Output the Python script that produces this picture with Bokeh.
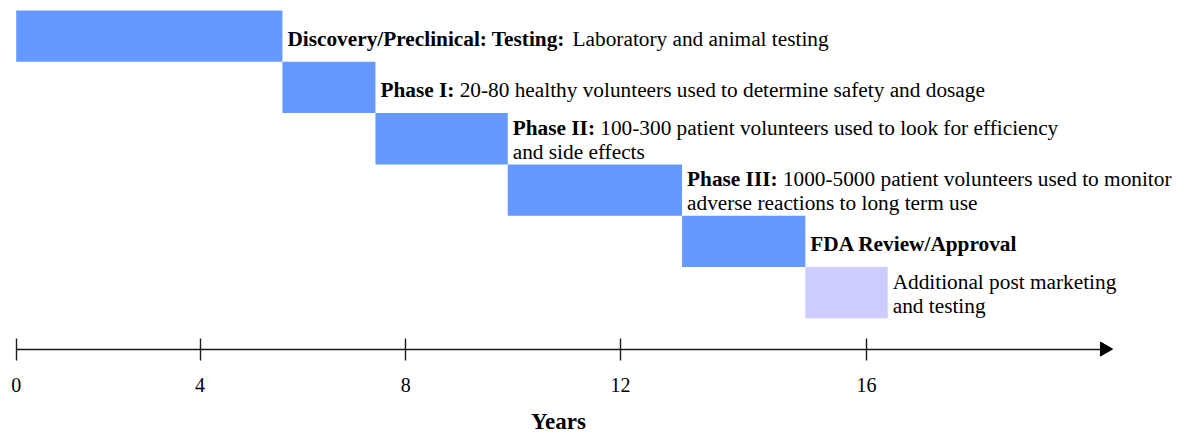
import numpy as np
from bokeh.plotting import figure
from bokeh.models import Range1d, LinearAxis, FixedTicker, ColumnDataSource
from bokeh.core.properties import value
from bokeh.embed import file_html
from bokeh.resources import INLINE

# ---------------- data ----------------
stages = ["Discovery/Preclinical", "Phase I", "Phase II", "Phase III",
          "FDA Review/Approval", "Post marketing"]
stage_start = [0.0, 5.01, 6.76, 9.25, 12.53, 14.85]
stage_end = [5.01, 6.76, 9.25, 12.53, 14.85, 16.40]
bold_labels = ["Discovery/Preclinical: Testing:", "Phase I:", "Phase II:",
               "Phase III:", "FDA Review/Approval", ""]
desc_line1 = ["Laboratory and animal testing",
              "20-80 healthy volunteers used to determine safety and dosage",
              "100-300 patient volunteers used to look for efficiency",
              "1000-5000 patient volunteers used to monitor",
              "",
              "Additional post marketing"]
desc_line2 = ["", "", "and side effects", "adverse reactions to long term use",
              "", "and testing"]
tick_pos = [0.0, 3.46, 7.33, 11.37, 16.0]
tick_labels = ["0", "4", "8", "12", "16"]
axis_end = 20.40

# ---------------- styles ----------------
stage_colors = ["#6699FF", "#6699FF", "#6699FF", "#6699FF", "#6699FF", "#CCCCFF"]
FONT = "Liberation Serif"
DESC_SIZE = 21.3
BOLD_W = {" ": 250, ":": 333, "/": 278, "D": 722, "P": 611, "T": 667, "I": 389,
          "a": 500, "c": 444, "e": 444, "g": 500, "h": 556, "i": 278, "l": 278,
          "n": 556, "o": 500, "r": 444, "s": 389, "t": 333, "v": 500, "y": 500}


def bold_width(s, size):
    return sum(BOLD_W.get(ch, 500) for ch in s) * size / 1000.0


rows = list(range(len(stages)))
axis_row = 6.10

p = figure(width=1186, height=437, output_backend="svg", toolbar_location=None,
           x_axis_location=None, y_axis_location=None,
           x_range=Range1d(-0.2954, 22.023), y_range=Range1d(7.824, -0.695),
           min_border=0, min_border_left=0, min_border_right=0,
           min_border_top=0, min_border_bottom=0)
p.outline_line_color = None
p.xgrid.grid_line_color = None
p.ygrid.grid_line_color = None
p.background_fill_color = "white"
p.border_fill_color = "white"

bars = ColumnDataSource(dict(left=stage_start, right=stage_end,
                             top=[r - 0.5 for r in rows],
                             bottom=[r + 0.5 for r in rows],
                             color=stage_colors))
p.quad(left="left", right="right", top="top", bottom="bottom", color="color",
       line_color=None, source=bars)

# text pieces
bx, by, bt, bxo, byo = [], [], [], [], []
rx, ry, rt, rxo, ryo = [], [], [], [], []
for i in rows:
    two = bool(desc_line2[i])
    yo = [-11, 13] if two else [3]
    if bold_labels[i]:
        bx.append(stage_end[i]); by.append(i); bt.append(bold_labels[i])
        bxo.append(5); byo.append(yo[0])
    if desc_line1[i]:
        off = 5 + (bold_width(bold_labels[i] + " ", DESC_SIZE) if bold_labels[i] else 0)
        rx.append(stage_end[i]); ry.append(i); rt.append(desc_line1[i])
        rxo.append(off); ryo.append(yo[0])
    if two:
        rx.append(stage_end[i]); ry.append(i); rt.append(desc_line2[i])
        rxo.append(5); ryo.append(yo[1])

p.text(x="x", y="y", text="text", x_offset="xo", y_offset="yo",
       source=ColumnDataSource(dict(x=bx, y=by, text=bt, xo=bxo, yo=byo)),
       text_font=value(FONT), text_font_size=f"{DESC_SIZE}px",
       text_font_style="bold", text_baseline="alphabetic", text_align="left",
       text_color="#000000")
p.text(x="x", y="y", text="text", x_offset="xo", y_offset="yo",
       source=ColumnDataSource(dict(x=rx, y=ry, text=rt, xo=rxo, yo=ryo)),
       text_font=value(FONT), text_font_size=f"{DESC_SIZE}px",
       text_font_style="normal", text_baseline="alphabetic", text_align="left",
       text_color="#000000")

# timeline axis
xaxis = LinearAxis(fixed_location=axis_row, bounds=(0, axis_end),
                   ticker=FixedTicker(ticks=tick_pos, minor_ticks=[]),
                   major_label_overrides={t: l for t, l in zip(tick_pos, tick_labels)},
                   axis_label="Years")
xaxis.axis_line_color = "#1a1a1a"
xaxis.axis_line_width = 1.6
xaxis.major_tick_line_color = "#1a1a1a"
xaxis.major_tick_line_width = 1.4
xaxis.major_tick_in = 11
xaxis.major_tick_out = 11
xaxis.minor_tick_line_color = None
xaxis.major_label_text_font = FONT
xaxis.major_label_text_font_size = "20px"
xaxis.major_label_text_color = "#000000"
xaxis.major_label_standoff = 18
xaxis.axis_label_text_font = FONT
xaxis.axis_label_text_font_size = "23px"
xaxis.axis_label_text_font_style = "bold"
xaxis.axis_label_text_color = "#000000"
xaxis.axis_label_standoff = 13
p.add_layout(xaxis, "below")

# arrow head at the end of the timeline
p.scatter(x=[axis_end + 0.08], y=[axis_row], marker="triangle", size=14,
          angle=-np.pi / 2, color="#000000", line_color="#000000")

open("out.html", "w").write(file_html(p, INLINE))
